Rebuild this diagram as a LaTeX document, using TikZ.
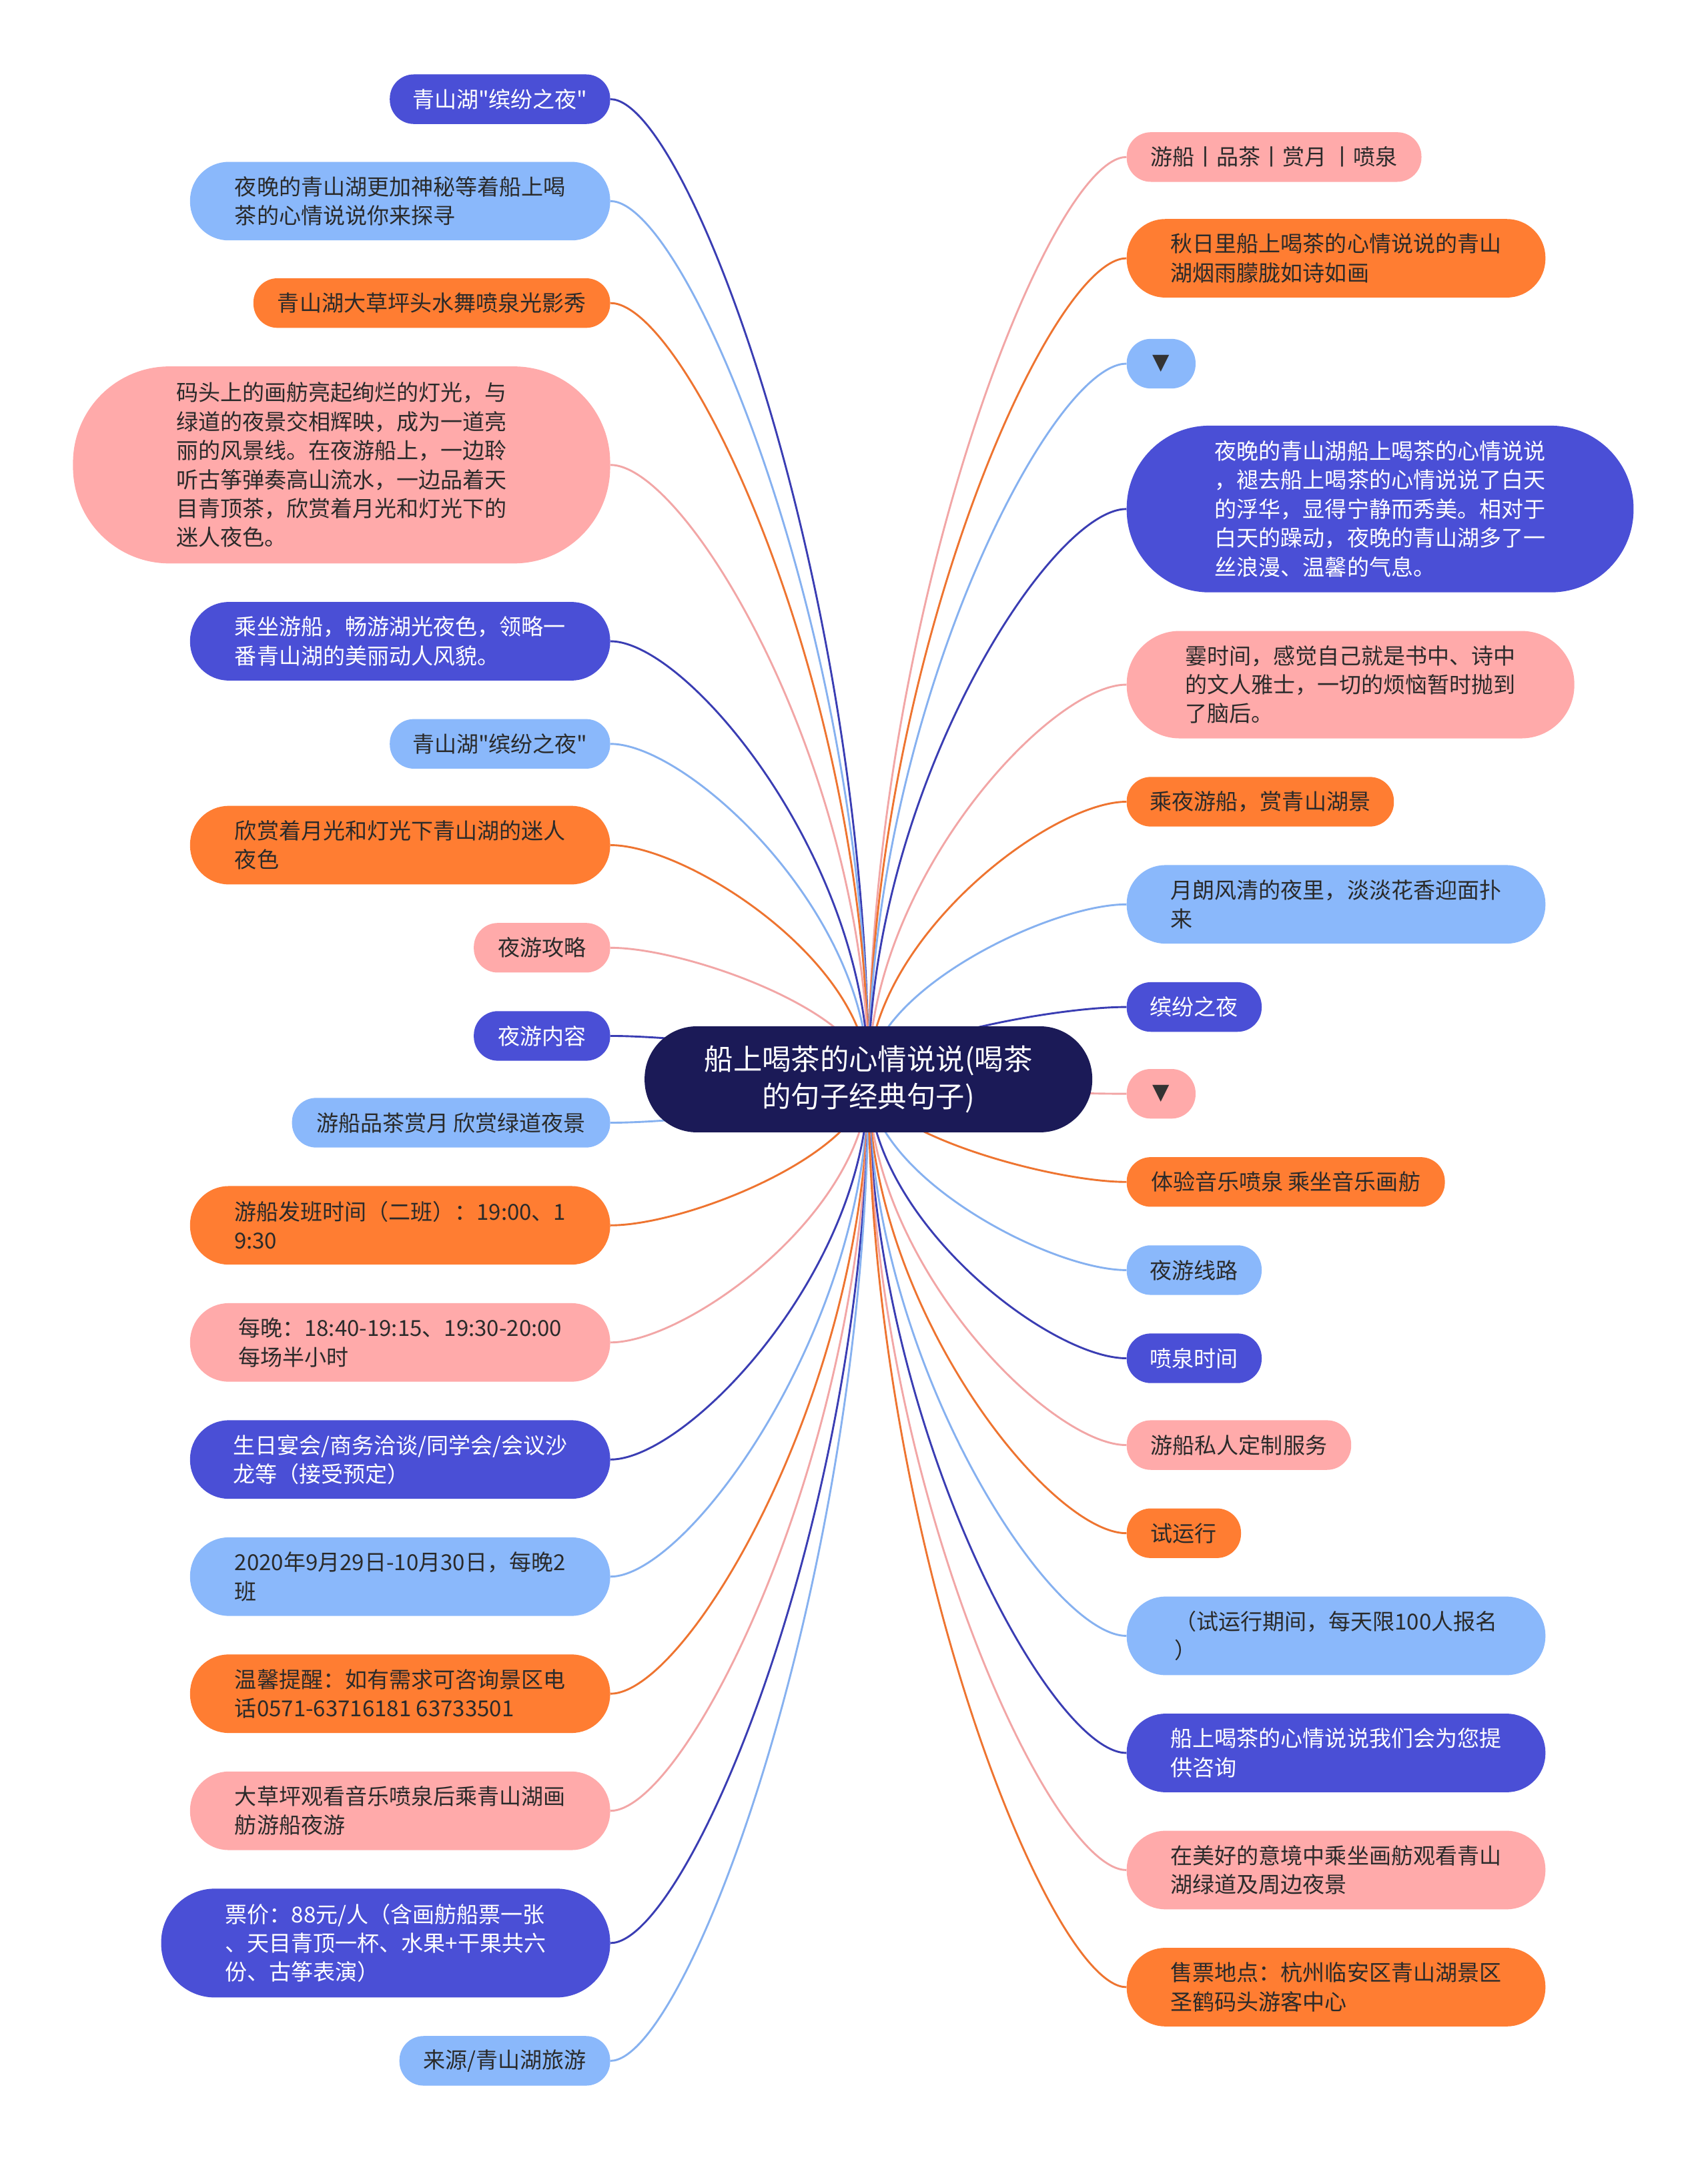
\documentclass[tikz,border=0pt]{standalone}
\usepackage{fontspec}
\setmainfont{Noto Sans CJK SC}[Ligatures=TeXOff]
\newfontfamily\dvsans{DejaVu Sans}
\usetikzlibrary{calc,backgrounds}
\definecolor{cC}{HTML}{1B1A57}
\definecolor{cDB}{HTML}{4A4FD6}
\definecolor{cLB}{HTML}{8AB8FB}
\definecolor{cOR}{HTML}{FF7D32}
\definecolor{cPK}{HTML}{FFAAAA}
\definecolor{lDB}{HTML}{3A3DB3}
\definecolor{lLB}{HTML}{86B1F0}
\definecolor{lOR}{HTML}{EE7430}
\definecolor{lPK}{HTML}{F2A6A6}
\definecolor{cTxt}{HTML}{2A2A2A}
\tikzset{
  leaf/.style={inner sep=0pt, align=left, font=\fontsize{16pt}{21pt}\selectfont},
  onel/.style={minimum height=36pt, rounded corners=17.5pt},
  twol/.style={minimum height=57pt, rounded corners=28pt},
  db/.style={fill=cDB, text=white},
  lb/.style={fill=cLB, text=cTxt},
  orn/.style={fill=cOR, text=cTxt},
  pk/.style={fill=cPK, text=cTxt},
  wdb/.style={draw=lDB, line width=1.4pt},
  wlb/.style={draw=lLB, line width=1.4pt},
  wor/.style={draw=lOR, line width=1.4pt},
  wpk/.style={draw=lPK, line width=1.4pt},
}
\newcommand\lconn[2]{\draw[#1] (#2.east) .. controls ($(#2.east)!0.3!(#2.east -| C.center)$) and ($(C.center)!0.5!(C.center |- #2.east)$) .. (C.center);}
\newcommand\rconn[2]{\draw[#1] (#2.west) .. controls ($(#2.west)!0.3!(#2.west -| C.center)$) and ($(C.center)!0.5!(C.center |- #2.west)$) .. (C.center);}
\begin{document}
\begin{tikzpicture}[x=1pt,y=-1pt]
\useasboundingbox (0,0) rectangle (1240,1568);
% center
\node[fill=cC, text=white, align=center, inner sep=0pt, minimum width=325pt, minimum height=77pt, rounded corners=38pt, font=\fontsize{21pt}{27pt}\selectfont] (C) at (630.5,783.5) {船上喝茶的心情说说(喝茶\\的句子经典句子)};
% left
\node[leaf,onel,db,minimum width=160pt] (L1) at (363,72) {青山湖"缤纷之夜"};
\node[leaf,twol,lb,minimum width=305pt] (L2) at (290.5,146) {夜晚的青山湖更加神秘等着船上喝\\茶的心情说说你来探寻};
\node[leaf,onel,orn,minimum width=259pt] (L3) at (313.5,220) {青山湖大草坪头水舞喷泉光影秀};
\node[leaf,pk,minimum width=390pt,minimum height=143pt,rounded corners=70pt] (L4) at (248,337.5) {码头上的画舫亮起绚烂的灯光，与\\绿道的夜景交相辉映，成为一道亮\\丽的风景线。在夜游船上，一边聆\\听古筝弹奏高山流水，一边品着天\\目青顶茶，欣赏着月光和灯光下的\\迷人夜色。};
\node[leaf,twol,db,minimum width=305pt] (L5) at (290.5,465.5) {乘坐游船，畅游湖光夜色，领略一\\番青山湖的美丽动人风貌。};
\node[leaf,onel,lb,minimum width=160pt] (L6) at (363,540) {青山湖"缤纷之夜"};
\node[leaf,twol,orn,minimum width=305pt] (L7) at (290.5,613.5) {欣赏着月光和灯光下青山湖的迷人\\夜色};
\node[leaf,onel,pk,minimum width=99pt] (L8) at (393.5,688) {夜游攻略};
\node[leaf,onel,db,minimum width=99pt] (L9) at (393.5,752) {夜游内容};
\node[leaf,onel,lb,minimum width=231pt] (L10) at (327.5,815) {游船品茶赏月 欣赏绿道夜景};
\node[leaf,twol,orn,minimum width=305pt] (L11) at (290.5,889.5) {游船发班时间（二班）：19:00、1\\9:30};
\node[leaf,twol,pk,minimum width=305pt] (L12) at (290.5,974.5) {每晚：18:40-19:15、19:30-20:00\\每场半小时};
\node[leaf,twol,db,minimum width=305pt] (L13) at (290.5,1059.5) {生日宴会/商务洽谈/同学会/会议沙\\龙等（接受预定）};
\node[leaf,twol,lb,minimum width=305pt] (L14) at (290.5,1144.5) {2020年9月29日-10月30日，每晚2\\班};
\node[leaf,twol,orn,minimum width=305pt] (L15) at (290.5,1229.5) {温馨提醒：如有需求可咨询景区电\\话0571-63716181 63733501};
\node[leaf,twol,pk,minimum width=305pt] (L16) at (290.5,1314.5) {大草坪观看音乐喷泉后乘青山湖画\\舫游船夜游};
\node[leaf,db,minimum width=326pt,minimum height=79pt,rounded corners=39pt] (L17) at (280,1410.5) {票价：88元/人（含画舫船票一张\\、天目青顶一杯、水果+干果共六\\份、古筝表演）};
\node[leaf,onel,lb,minimum width=153pt] (L18) at (366.5,1496) {来源/青山湖旅游};
% right
\node[leaf,onel,pk,minimum width=214pt] (R1) at (925,114) {游船丨品茶丨赏月 丨喷泉};
\node[leaf,twol,orn,minimum width=304pt] (R2) at (970,187.5) {秋日里船上喝茶的心情说说的青山\\湖烟雨朦胧如诗如画};
\node[leaf,onel,lb,minimum width=50pt,text=black!80] (R3) at (843,264) {\dvsans ▼};
\node[leaf,db,minimum width=368pt,minimum height=121pt,rounded corners=60pt] (R4) at (1002,369.5) {夜晚的青山湖船上喝茶的心情说说\\，褪去船上喝茶的心情说说了白天\\的浮华，显得宁静而秀美。相对于\\白天的躁动，夜晚的青山湖多了一\\丝浪漫、温馨的气息。};
\node[leaf,pk,minimum width=325pt,minimum height=78pt,rounded corners=38.5pt] (R5) at (980.5,497) {霎时间，感觉自己就是书中、诗中\\的文人雅士，一切的烦恼暂时抛到\\了脑后。};
\node[leaf,onel,orn,minimum width=194pt] (R6) at (915,582) {乘夜游船，赏青山湖景};
\node[leaf,twol,lb,minimum width=304pt] (R7) at (970,656.5) {月朗风清的夜里，淡淡花香迎面扑\\来};
\node[leaf,onel,db,minimum width=98pt] (R8) at (867,731) {缤纷之夜};
\node[leaf,onel,pk,minimum width=50pt,text=black!80] (R9) at (843,794) {\dvsans ▼};
\node[leaf,onel,orn,minimum width=231pt] (R10) at (933.5,858) {体验音乐喷泉 乘坐音乐画舫};
\node[leaf,onel,lb,minimum width=98pt] (R11) at (867,922) {夜游线路};
\node[leaf,onel,db,minimum width=98pt] (R12) at (867,986) {喷泉时间};
\node[leaf,onel,pk,minimum width=163pt] (R13) at (899.5,1049) {游船私人定制服务};
\node[leaf,onel,orn,minimum width=83pt] (R14) at (859.5,1113) {试运行};
\node[leaf,twol,lb,minimum width=304pt] (R15) at (970,1187.5) {（试运行期间，每天限100人报名\\）};
\node[leaf,twol,db,minimum width=304pt] (R16) at (970,1272.5) {船上喝茶的心情说说我们会为您提\\供咨询};
\node[leaf,twol,pk,minimum width=304pt] (R17) at (970,1357.5) {在美好的意境中乘坐画舫观看青山\\湖绿道及周边夜景};
\node[leaf,twol,orn,minimum width=304pt] (R18) at (970,1442.5) {售票地点：杭州临安区青山湖景区\\圣鹤码头游客中心};
\begin{scope}[on background layer]
\fill[white] (0,0) rectangle (1240,1568);
\lconn{wdb}{L1}
\lconn{wlb}{L2}
\lconn{wor}{L3}
\lconn{wpk}{L4}
\lconn{wdb}{L5}
\lconn{wlb}{L6}
\lconn{wor}{L7}
\lconn{wpk}{L8}
\lconn{wdb}{L9}
\lconn{wlb}{L10}
\lconn{wor}{L11}
\lconn{wpk}{L12}
\lconn{wdb}{L13}
\lconn{wlb}{L14}
\lconn{wor}{L15}
\lconn{wpk}{L16}
\lconn{wdb}{L17}
\lconn{wlb}{L18}
\rconn{wpk}{R1}
\rconn{wor}{R2}
\rconn{wlb}{R3}
\rconn{wdb}{R4}
\rconn{wpk}{R5}
\rconn{wor}{R6}
\rconn{wlb}{R7}
\rconn{wdb}{R8}
\rconn{wpk}{R9}
\rconn{wor}{R10}
\rconn{wlb}{R11}
\rconn{wdb}{R12}
\rconn{wpk}{R13}
\rconn{wor}{R14}
\rconn{wlb}{R15}
\rconn{wdb}{R16}
\rconn{wpk}{R17}
\rconn{wor}{R18}
\end{scope}
\end{tikzpicture}
\end{document}
